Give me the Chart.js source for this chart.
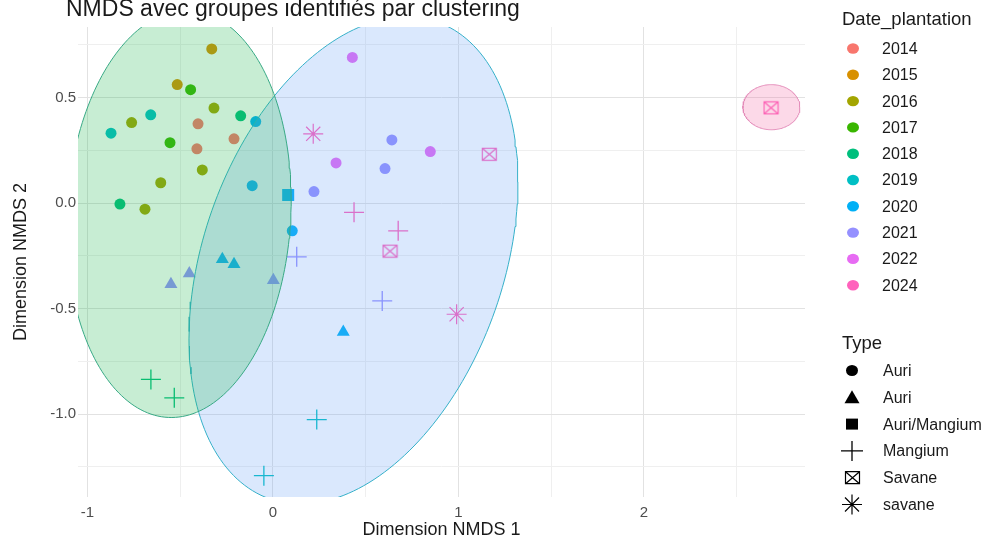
<!DOCTYPE html>
<html><head><meta charset="utf-8">
<script src="https://cdn.jsdelivr.net/npm/chart.js@4/dist/chart.umd.min.js"></script>
<style>
html,body{margin:0;padding:0;background:#fff;overflow:hidden;}
#wrap{position:relative;width:992px;height:541px;overflow:hidden;font-family:"Liberation Sans",Arial,Helvetica,sans-serif;}
#c{position:absolute;left:0;top:0;}
.t{position:absolute;white-space:nowrap;color:#1a1a1a;}
#sym{position:absolute;left:0;top:0;}
</style></head>
<body><div id="wrap">
<canvas id="c" width="992" height="541"></canvas>
<div class="t" style="left:66px;top:-3px;font-size:23px;line-height:23px;">NMDS avec groupes identifiés par clustering</div>
<svg id="sym" width="992" height="541" xmlns="http://www.w3.org/2000/svg"></svg>
<div id="legend"></div>
</div>
<script>
// ---- data ----
const years = ['2014','2015','2016','2017','2018','2019','2020','2021','2022','2024'];
const yearColors = ['#F8766D','#D89000','#A3A500','#39B600','#00BF7D','#00BFC4','#00B0F6','#9590FF','#E76BF3','#FF62BC'];
const typeLabels = ['Auri','Auri','Auri/Mangium','Mangium','Savane','savane'];

// Auri (circles)
const circleX = [-0.404,-0.210,-0.410,-0.330,-0.516,-0.318,-0.762,-0.381,-0.605,-0.690,-0.444,-0.555,-0.174,-0.825,-0.659,-0.873,-0.093,-0.112,0.104,0.221,0.641,0.604,0.428,0.848,0.340];
const circleY = [0.375,0.304,0.257,0.730,0.561,0.450,0.381,0.157,0.096,-0.029,0.537,0.286,0.413,-0.005,0.418,0.331,0.386,0.082,-0.132,0.054,0.299,0.163,0.690,0.244,0.190];
const circleYear = ['2014','2014','2014','2015','2015','2016','2016','2016','2016','2016','2017','2017','2018','2018','2019','2019','2020','2020','2020','2021','2021','2021','2022','2022','2022'];
// Auri (triangles)
const triX = [-0.550,-0.451,-0.273,-0.210,0.002,0.379];
const triY = [-0.385,-0.334,-0.267,-0.290,-0.366,-0.611];
const triYear = ['2021','2021','2020','2020','2021','2020'];
// Auri/Mangium (square)
const sqX = [0.082];
const sqY = [0.038];
const sqYear = ['2020'];
// Mangium (plus)
const crossX = [-0.658,-0.532,0.236,-0.049,0.128,0.589,0.437,0.675];
const crossY = [-0.836,-0.923,-1.026,-1.292,-0.255,-0.464,-0.044,-0.132];
const crossYear = ['2018','2018','2019','2019','2021','2021','2024','2024'];
// Savane (boxed x)
const boxX = [1.166,0.631,2.685];
const boxY = [0.231,-0.228,0.451];
const boxYear = ['2024','2024','2024'];
// savane (asterisk)
const starX = [0.217,0.990];
const starY = [0.328,-0.527];
const starYear = ['2024','2024'];

// cluster ellipses (centre and covariance of the 95% ellipse)
const ellipseCenterX = [-0.507, 0.434, 2.687];
const ellipseCenterY = [-0.052, -0.272, 0.454];
const ellipseVarX = [0.3663, 0.7864, 0.0236];
const ellipseCovXY = [0.0401, 0.3297, 0];
const ellipseVarY = [0.9300, 1.3326, 0.01143];

// axes
const xTicks = [-1,-0.5,0,0.5,1,1.5,2,2.5];
const xLabelTicks = [-1,0,1,2];
const yTicks = [-1.25,-1,-0.75,-0.5,-0.25,0,0.25,0.5,0.75];
const yLabelTicks = [-1,-0.5,0,0.5];
const xRange = [-1.051, 2.868];
const yRange = [-1.393, 0.834];

// ---- chart ----
const FONT = '"Liberation Sans", Arial, Helvetica, sans-serif';
Chart.defaults.font.family = FONT;
const colorOf = y => yearColors[years.indexOf(y)];
const pts = (xs, ys) => xs.map((x, i) => ({x: x, y: ys[i]}));

function boxCanvas(color){
  const c = document.createElement('canvas'); c.width = 17; c.height = 15;
  const g = c.getContext('2d'); g.strokeStyle = color; g.lineWidth = 1.2;
  g.strokeRect(1.5,1.5,14,12);
  g.beginPath(); g.moveTo(1.5,1.5); g.lineTo(15.5,13.5); g.moveTo(15.5,1.5); g.lineTo(1.5,13.5); g.stroke();
  return c;
}
function ellipsePath(i){
  const a = Math.sqrt(ellipseVarX[i]);
  const b = ellipseCovXY[i] / a;
  const c = Math.sqrt(ellipseVarY[i] - b*b);
  const out = [];
  for (let k = 0; k <= 200; k++){
    const t = 2*Math.PI*k/200;
    out.push({x: ellipseCenterX[i] + a*Math.cos(t), y: ellipseCenterY[i] + b*Math.cos(t) + c*Math.sin(t)});
  }
  return out;
}
const ellipseFill = ['rgba(30,185,80,0.25)','rgba(100,158,245,0.24)','rgba(245,105,165,0.25)'];
const ellipseLine = ['#38a985','#35b0c9','#e38ab8'];

const datasets = [];
for (let i = 0; i < ellipseCenterX.length; i++){
  datasets.push({type:'line', label:'cluster '+(i+1), data: ellipsePath(i), order:0,
    borderColor: ellipseLine[i], borderWidth:1, backgroundColor: ellipseFill[i], fill:'shape',
    pointRadius:0, tension:0});
}
datasets.push({label:typeLabels[0], data:pts(circleX,circleY), order:1, pointStyle:'circle', pointRadius:5.5,
  pointBackgroundColor: circleYear.map(colorOf), pointBorderWidth:0});
datasets.push({label:typeLabels[1], data:pts(triX,triY), order:1, pointStyle:'triangle', pointRadius:7.5,
  pointBackgroundColor: triYear.map(colorOf), pointBorderWidth:0});
datasets.push({label:typeLabels[2], data:pts(sqX,sqY), order:1, pointStyle:'rect', pointRadius:8.5,
  pointBackgroundColor: sqYear.map(colorOf), pointBorderWidth:0});
datasets.push({label:typeLabels[3], data:pts(crossX,crossY), order:1, pointStyle:'cross', pointRadius:10,
  pointBorderColor: crossYear.map(colorOf), pointBorderWidth:1.3});
datasets.push({label:typeLabels[4], data:pts(boxX,boxY), order:1, pointStyle: boxYear.map(y => boxCanvas(colorOf(y))), pointRadius:8});
datasets.push({label:typeLabels[5], data:pts(starX,starY), order:1, pointStyle:'star', pointRadius:10,
  pointBorderColor: starYear.map(colorOf), pointBorderWidth:1.2});

const majorGrid = '#e2e2e2', minorGrid = '#efefef';
new Chart(document.getElementById('c'), {
  type:'scatter',
  data:{datasets},
  options:{
    responsive:false, animation:false, events:[],
    layout:{padding:{top:27, right:187, left:0, bottom:0}},
    plugins:{legend:{display:false}, tooltip:{enabled:false}},
    scales:{
      x:{type:'linear', min:xRange[0], max:xRange[1],
        afterBuildTicks: s => { s.ticks = xTicks.map(v => ({value:v})); },
        afterFit: s => { s.height = 44; },
        border:{display:false},
        grid:{drawTicks:false, lineWidth:1, color: c => xLabelTicks.includes(c.tick && c.tick.value) ? majorGrid : minorGrid},
        ticks:{padding:7, maxRotation:0, autoSkip:false, color:'#4d4d4d', font:{size:15},
          callback: v => xLabelTicks.includes(v) ? String(v) : ''},
        title:{display:true, text:'Dimension NMDS 1', color:'#1a1a1a', font:{size:18}, padding:{top:0, bottom:0}}
      },
      y:{type:'linear', min:yRange[0], max:yRange[1],
        afterBuildTicks: s => { s.ticks = yTicks.map(v => ({value:v})); },
        afterFit: s => { s.width = 78; },
        border:{display:false},
        grid:{drawTicks:false, lineWidth:1, color: c => yLabelTicks.includes(c.tick && c.tick.value) ? majorGrid : minorGrid},
        ticks:{padding:2, autoSkip:false, color:'#4d4d4d', font:{size:15},
          callback: v => yLabelTicks.includes(v) ? v.toFixed(1) : ''},
        title:{display:true, text:'Dimension NMDS 2', color:'#1a1a1a', font:{size:18}, padding:{top:10, bottom:0}}
      }
    }
  }
});

// ---- legend (HTML text + SVG keys) ----
const legendEl = document.getElementById('legend');
const svg = document.getElementById('sym');
const NS = 'http://www.w3.org/2000/svg';
function addText(txt, x, cy, size){
  const d = document.createElement('div'); d.className = 't'; d.textContent = txt;
  d.style.left = x + 'px'; d.style.top = (cy - size*0.6) + 'px';
  d.style.fontSize = size + 'px'; d.style.lineHeight = (size*1.2) + 'px';
  legendEl.appendChild(d);
}
function sh(tag, attrs){ const e = document.createElementNS(NS, tag); for (const k in attrs) e.setAttribute(k, attrs[k]); svg.appendChild(e); return e; }

addText('Date_plantation', 842, 19.5, 18.5);
years.forEach((y, i) => {
  const cy = 48.5 + i*26.3;
  sh('ellipse', {cx:853, cy:cy, rx:6, ry:5.2, fill:yearColors[i]});
  addText(y, 882, cy, 16);
});
addText('Type', 842, 343, 18.5);
const tcy = typeLabels.map((t, i) => 370.5 + i*26.8);
typeLabels.forEach((t, i) => addText(t, 883, tcy[i], 16));
const K = '#000';
sh('ellipse', {cx:852, cy:tcy[0], rx:6, ry:5.5, fill:K});
sh('polygon', {points:`852,${tcy[1]-7} 859.5,${tcy[1]+6} 844.5,${tcy[1]+6}`, fill:K});
sh('rect', {x:846, y:tcy[2]-5.5, width:12, height:11, fill:K});
sh('path', {d:`M841 ${tcy[3]} H863 M852 ${tcy[3]-10} V${tcy[3]+10}`, stroke:K, 'stroke-width':1.3, fill:'none'});
sh('path', {d:`M845.5 ${tcy[4]-6} h14 v12 h-14 Z M845.5 ${tcy[4]-6} L859.5 ${tcy[4]+6} M859.5 ${tcy[4]-6} L845.5 ${tcy[4]+6}`, stroke:K, 'stroke-width':1.2, fill:'none'});
sh('path', {d:`M842 ${tcy[5]} H862 M852 ${tcy[5]-10} V${tcy[5]+10} M845 ${tcy[5]-7} L859 ${tcy[5]+7} M859 ${tcy[5]-7} L845 ${tcy[5]+7}`, stroke:K, 'stroke-width':1.2, fill:'none'});
</script>
</body></html>
